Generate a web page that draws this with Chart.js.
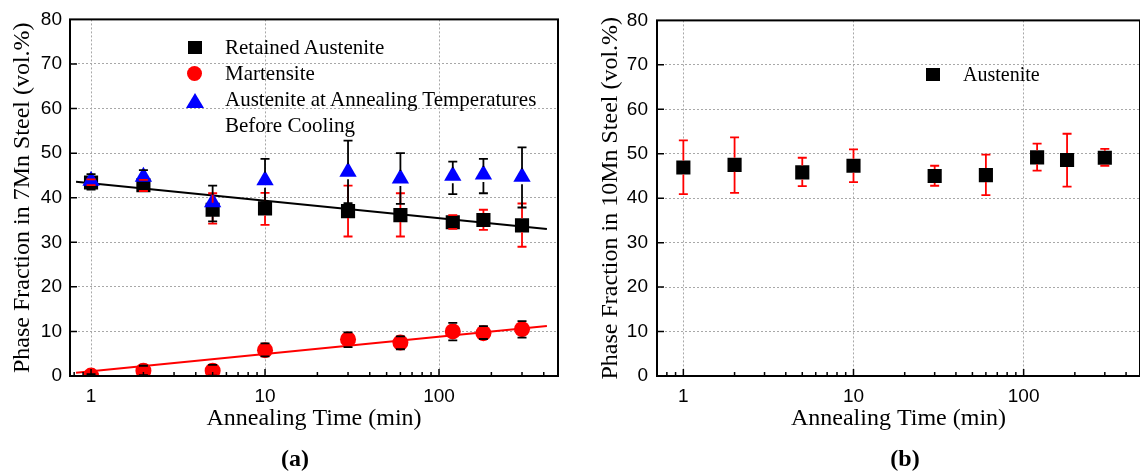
<!DOCTYPE html>
<html>
<head>
<meta charset="utf-8">
<script src="https://cdn.jsdelivr.net/npm/chart.js@4.4.1/dist/chart.umd.min.js"></script>
<style>
    html, body {
        margin: 0;
        padding: 0;
        width: 1140px;
        height: 473px;
        overflow: hidden;
        background: #fff;
        position: relative;
    }

    canvas {
        position: absolute;
        top: 0;
        display: block;
    }

    #graficoA { left: 0; }

    #graficoB { left: 570px; }

    .legenda {
        position: absolute;
        font-family: "Liberation Serif", "Times New Roman", serif;
        color: #000;
        white-space: nowrap;
    }

    .marca {
        position: absolute;
    }

    .quadrado {
        width: 14px;
        height: 13px;
        background: #000;
    }

    .circulo {
        width: 15px;
        height: 15px;
        border-radius: 50%;
        background: #ff0000;
    }

    .triangulo {
        width: 0;
        height: 0;
        border-left: 9px solid transparent;
        border-right: 9px solid transparent;
        border-bottom: 15px solid #0000ff;
    }

    .rotulo {
        position: absolute;
        width: 100px;
        text-align: center;
        font-family: "Liberation Serif", "Times New Roman", serif;
        font-weight: bold;
        font-size: 24px;
        line-height: 28px;
        color: #000;
    }
</style>
</head>
<body>

<canvas id="graficoA" width="570" height="473"></canvas>
<canvas id="graficoB" width="580" height="473"></canvas>

<!-- legend of panel (a) -->
<div class="marca quadrado" style="left:188px; top:41px;"></div>
<div class="marca circulo" style="left:187px; top:66px;"></div>
<div class="marca triangulo" style="left:186px; top:93px;"></div>
<div class="legenda" style="left:225px; top:34px; font-size:21px; line-height:26px;">
    Retained Austenite<br>
    Martensite<br>
    Austenite at Annealing Temperatures<br>
    Before Cooling
</div>

<!-- legend of panel (b) -->
<div class="marca quadrado" style="left:926px; top:68px;"></div>
<div class="legenda" style="left:963px; top:61px; font-size:20px; line-height:26px;">Austenite</div>

<div class="rotulo" style="left:245px; top:444px;">(a)</div>
<div class="rotulo" style="left:855px; top:444px;">(b)</div>

<script>

// annealing times (min)
const annealingTimes = [1, 2, 5, 10, 30, 60, 120, 180, 300];

// 7Mn steel - retained austenite (vol.%)
const retained7Mn = [43.4, 42.8, 37.3, 37.6, 37.0, 36.1, 34.5, 35.0, 33.8];
const retained7MnLow = [42.8, 41.5, 34.2, 33.9, 31.3, 31.3, 33.0, 32.8, 29.0];
const retained7MnHigh = [44.1, 44.0, 41.0, 41.1, 42.7, 41.0, 36.1, 37.3, 38.7];

// 7Mn steel - martensite
const martensite7Mn = [0.1, 1.2, 1.2, 5.8, 8.2, 7.5, 10.0, 9.6, 10.5];
const martensite7MnLow = [0.0, 0.2, 0.1, 4.4, 6.5, 6.0, 8.0, 8.3, 8.6];
const martensite7MnHigh = [0.4, 2.3, 2.5, 7.3, 9.8, 8.9, 11.9, 11.2, 12.3];

// 7Mn steel - austenite at annealing temperature before cooling
const hotAustenite7Mn = [43.8, 44.7, 39.0, 43.9, 45.8, 44.3, 44.9, 45.2, 44.7];
const hotAustenite7MnLow = [41.8, 42.0, 34.7, 39.0, 38.8, 38.6, 40.8, 41.0, 37.8];
const hotAustenite7MnHigh = [45.3, 46.2, 42.7, 48.7, 52.8, 50.0, 48.1, 48.7, 51.3];

// fitted lines (end points)
const fitTimes = [0.82, 417];
const retainedFit = [43.6, 33.0];
const martensiteFit = [0.74, 11.2];

// 10Mn steel - austenite
const austenite10Mn = [46.9, 47.5, 45.8, 47.3, 45.0, 45.2, 49.2, 48.6, 49.1];
const austenite10MnLow = [40.9, 41.2, 42.7, 43.6, 42.8, 40.7, 46.2, 42.6, 47.3];
const austenite10MnHigh = [53.0, 53.7, 49.1, 51.0, 47.3, 49.8, 52.3, 54.5, 51.1];

// axes
const xTickValues = [0.8, 0.9, 1, 2, 3, 4, 5, 6, 7, 8, 9, 10, 20, 30, 40, 50, 60, 70, 80, 90, 100, 200, 300, 400];
const xMajorTicks = [1, 10, 100];
const yMajorTicks = [0, 10, 20, 30, 40, 50, 60, 70, 80];

const gridColor = "#a8a8a8";

Chart.defaults.font.family = "'Liberation Sans', Arial, sans-serif";
Chart.defaults.color = "#000";

function pontos(xs, ys) {

    return xs.map((x, i) => ({ x, y: ys[i] }));
}

// error bars, drawn from the dataset's own low/high arrays
const barrasErro = {

    id: "barrasErro",

    afterDatasetsDraw(chart) {

        const ctx = chart.ctx;
        const xs = chart.scales.x;
        const ys = chart.scales.y;

        ctx.save();

        chart.data.datasets.forEach(ds => {

            if (!ds.errLow)
                return;

            ctx.strokeStyle = ds.errColor;
            ctx.lineWidth = 1.8;

            ds.data.forEach((p, j) => {

                const x = xs.getPixelForValue(p.x);
                const yc = ys.getPixelForValue(p.y);
                const yLo = ys.getPixelForValue(ds.errLow[j]);
                const yHi = ys.getPixelForValue(ds.errHigh[j]);
                const gap = ds.errGap;

                ctx.beginPath();

                if (yHi < yc - gap) {
                    ctx.moveTo(x, yc - gap);
                    ctx.lineTo(x, yHi);
                }

                if (yLo > yc + gap) {
                    ctx.moveTo(x, yc + gap);
                    ctx.lineTo(x, yLo);
                }

                ctx.moveTo(x - 4.5, yHi);
                ctx.lineTo(x + 4.5, yHi);
                ctx.moveTo(x - 4.5, yLo);
                ctx.lineTo(x + 4.5, yLo);

                ctx.stroke();
            });
        });

        ctx.restore();
    }
};

// frame and inward tick marks
const moldura = {

    id: "moldura",

    afterDraw(chart) {

        const ctx = chart.ctx;
        const area = chart.chartArea;
        const xs = chart.scales.x;
        const ys = chart.scales.y;

        ctx.save();

        ctx.strokeStyle = "#000";
        ctx.lineWidth = 1.5;
        ctx.beginPath();

        xs.ticks.forEach(t => {

            const len = xMajorTicks.includes(t.value) ? 7 : 4;
            const px = xs.getPixelForValue(t.value);

            ctx.moveTo(px, area.bottom);
            ctx.lineTo(px, area.bottom - len);
        });

        ys.ticks.forEach(t => {

            if (t.value <= 0 || t.value >= 80)
                return;

            const len = t.value % 10 === 0 ? 7 : 4;
            const py = ys.getPixelForValue(t.value);

            ctx.moveTo(area.left, py);
            ctx.lineTo(area.left + len, py);
        });

        ctx.stroke();

        ctx.lineWidth = 2;
        ctx.strokeRect(
            area.left,
            area.top,
            area.right - area.left,
            area.bottom - area.top
        );

        ctx.restore();
    }
};

function criarGrafico(canvasId, datasets, opts) {

    return new Chart(
        document.getElementById(canvasId),
        {
            type: "scatter",

            data: { datasets },

            options: {

                responsive: false,
                animation: false,
                events: [],

                layout: {
                    padding: { top: 16, right: opts.padRight, left: 0, bottom: 0 }
                },

                plugins: {
                    legend: { display: false },
                    tooltip: { enabled: false }
                },

                scales: {

                    x: {
                        type: "logarithmic",
                        min: opts.xMin,
                        max: opts.xMax,

                        afterBuildTicks: s => {
                            s.ticks = xTickValues.map(v => ({ value: v }));
                        },

                        afterFit: s => {
                            s.height = 97;
                        },

                        ticks: {
                            autoSkip: false,
                            maxRotation: 0,
                            padding: 9,
                            font: { size: 19 },
                            callback: v =>
                                xMajorTicks.includes(v) ? String(v) : ""
                        },

                        grid: {
                            drawTicks: false,
                            lineWidth: 1,
                            color: c =>
                                c.tick && xMajorTicks.includes(c.tick.value)
                                    ? gridColor
                                    : "rgba(0,0,0,0)"
                        },

                        border: { display: false, dash: [2, 2] },

                        title: {
                            display: true,
                            text: "Annealing Time (min)",
                            color: "#000",
                            font: { family: "'Liberation Serif', 'Times New Roman', serif", size: 24 },
                            padding: { top: 0, bottom: 40 }
                        }
                    },

                    y: {
                        min: 0,
                        max: 80,

                        afterFit: s => {
                            s.width = opts.yWidth;
                        },

                        ticks: {
                            stepSize: 5,
                            padding: opts.yPad,
                            font: { size: 19 },
                            callback: v =>
                                yMajorTicks.includes(v) ? String(v) : ""
                        },

                        grid: {
                            drawTicks: false,
                            lineWidth: 1,
                            color: c =>
                                c.tick &&
                                c.tick.value % 10 === 0 &&
                                c.tick.value > 0 &&
                                c.tick.value < 80
                                    ? gridColor
                                    : "rgba(0,0,0,0)"
                        },

                        border: { display: false, dash: [2, 2] },

                        title: {
                            display: true,
                            text: opts.yTitle,
                            color: "#000",
                            font: { family: "'Liberation Serif', 'Times New Roman', serif", size: 24 },
                            padding: { top: opts.yTitlePad, bottom: 0 }
                        }
                    }
                }
            },

            plugins: [barrasErro, moldura]
        }
    );
}

function marcadores(label, ys, low, high, style, radius, color, errColor, gap, order) {

    return {
        label,
        data: pontos(annealingTimes, ys),
        pointStyle: style,
        pointRadius: radius,
        pointBackgroundColor: color,
        pointBorderWidth: 0,
        showLine: false,
        errLow: low,
        errHigh: high,
        errColor,
        errGap: gap,
        order
    };
}

function linhaAjuste(ys, color) {

    return {
        data: pontos(fitTimes, ys),
        showLine: true,
        borderColor: color,
        borderWidth: 2,
        pointRadius: 0,
        order: 9
    };
}

criarGrafico(
    "graficoA",
    [
        linhaAjuste(retainedFit, "#000"),
        linhaAjuste(martensiteFit, "#ff0000"),
        marcadores("Retained Austenite", retained7Mn, retained7MnLow, retained7MnHigh,
            "rect", 10, "#000", "#ff0000", 7, 3),
        marcadores("Austenite at Annealing Temperatures Before Cooling", hotAustenite7Mn,
            hotAustenite7MnLow, hotAustenite7MnHigh, "triangle", 10, "#0000ff", "#000", 7.5, 2),
        marcadores("Martensite", martensite7Mn, martensite7MnLow, martensite7MnHigh,
            "circle", 8, "#ff0000", "#000", 8, 1)
    ],
    {
        xMin: 0.757,
        xMax: 483,
        padRight: 12,
        yWidth: 70,
        yPad: 8,
        yTitle: "Phase Fraction in 7Mn Steel (vol.%)",
        yTitlePad: 8
    }
);

criarGrafico(
    "graficoB",
    [
        marcadores("Austenite", austenite10Mn, austenite10MnLow, austenite10MnHigh,
            "rect", 10, "#000", "#ff0000", 7, 1)
    ],
    {
        xMin: 0.746,
        xMax: 483,
        padRight: 7,
        yWidth: 87,
        yPad: 9,
        yTitle: "Phase Fraction in 10Mn Steel (vol.%)",
        yTitlePad: 26
    }
);

</script>
</body>
</html>
